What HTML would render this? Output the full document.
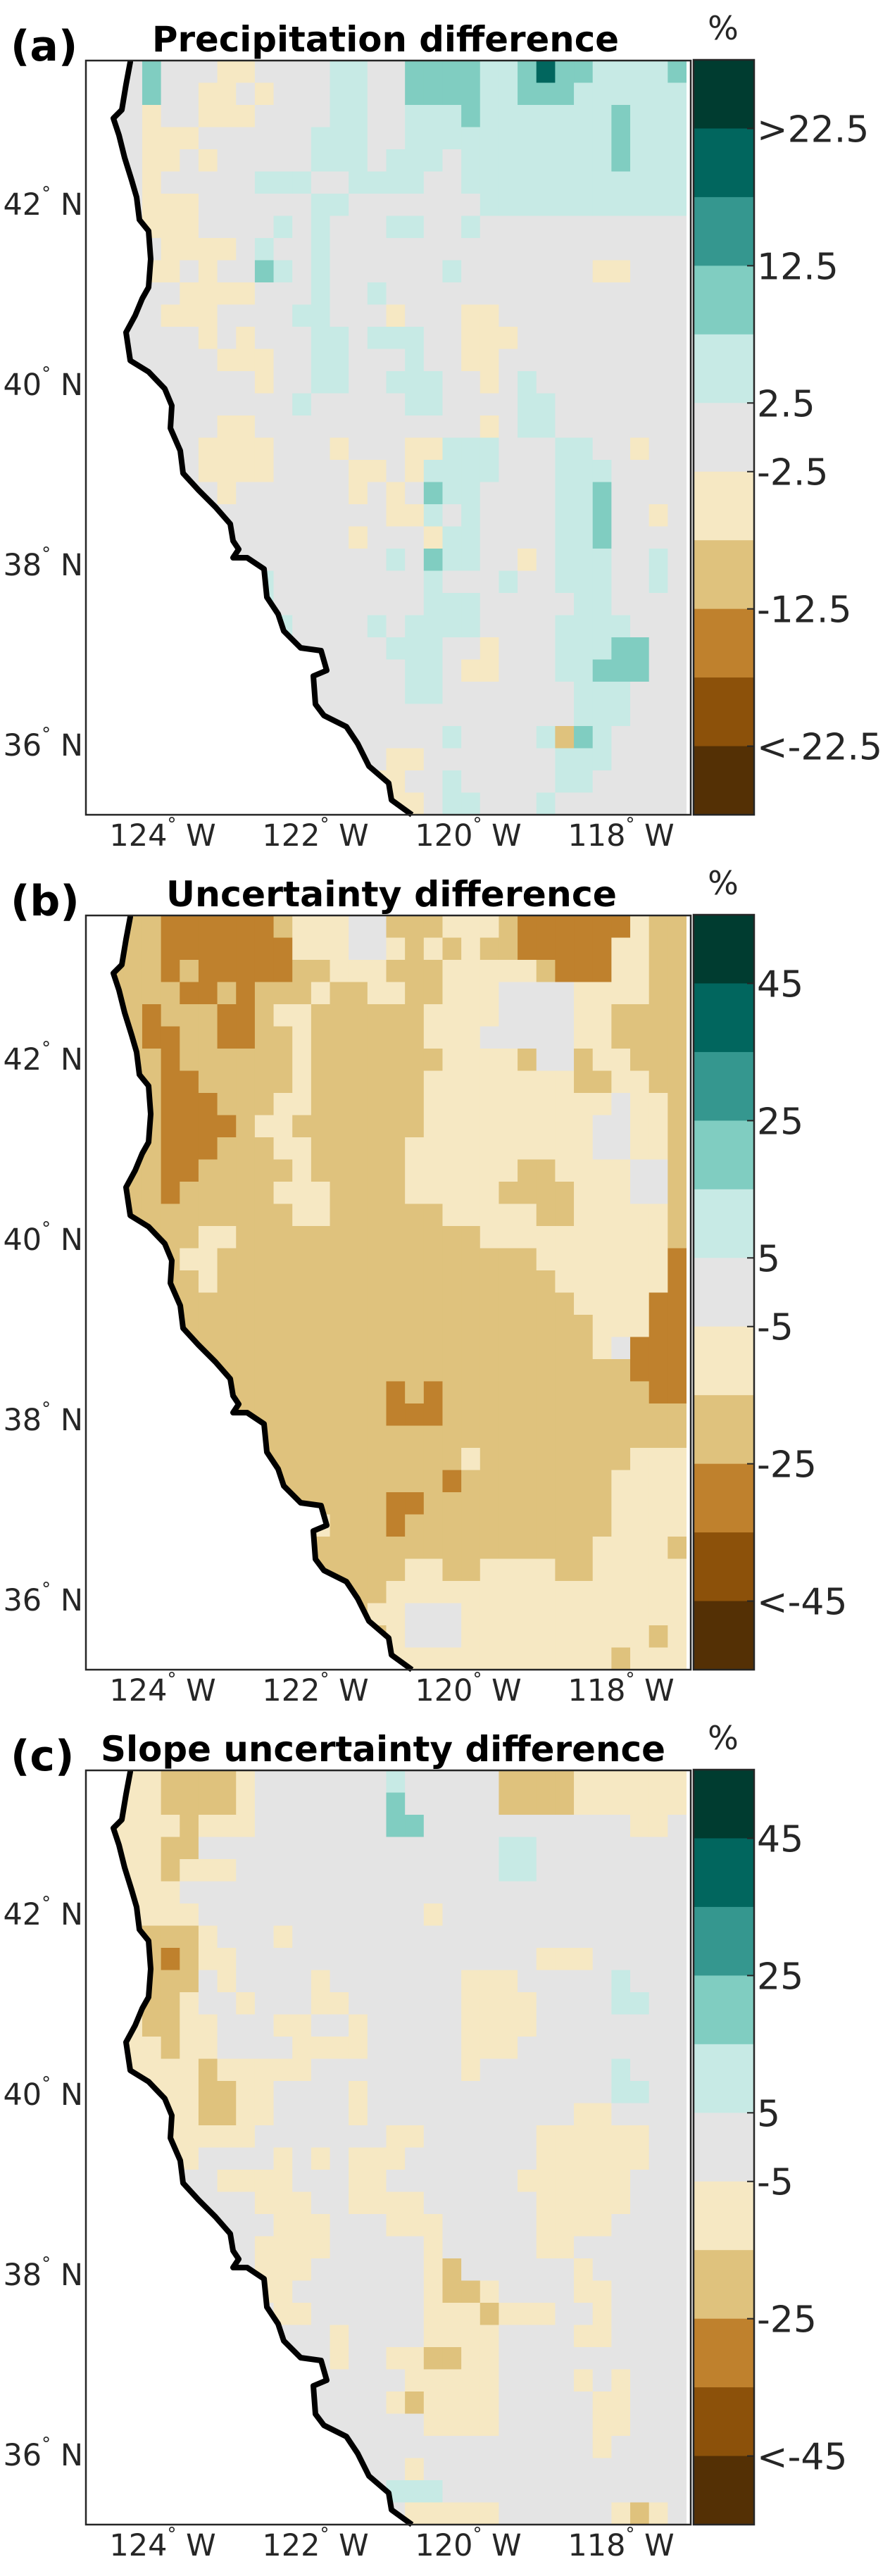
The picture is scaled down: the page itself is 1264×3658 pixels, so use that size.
<!DOCTYPE html>
<html><head><meta charset="utf-8">
<style>
html,body{margin:0;padding:0;background:#fff;}
svg{display:block;font-family:"DejaVu Sans","Liberation Sans",sans-serif;}
</style></head>
<body>
<svg id="fig" width="1264" height="3658" viewBox="0 0 1264 3658" xmlns="http://www.w3.org/2000/svg"></svg>
<script>
// ---- data ----
const palette = ["#543005","#8c510a","#bf812d","#dfc27d","#f6e8c3","#e4e4e4","#c7eae5","#80cdc1","#35978f","#01665e","#003c30"];
const panelLetters = ["(a)","(b)","(c)"];
const panelTitles = ["Precipitation difference","Uncertainty difference","Slope uncertainty difference"];
const cbLabelsA = [">22.5","12.5","2.5","-2.5","-12.5","<-22.5"];
const cbLabelsB = ["45","25","5","-5","-25","<-45"];
const cbLabelsC = ["45","25","5","-5","-25","<-45"];
const cbLabelBoundaries = [1,3,5,6,8,10];
const latTicks = [42,40,38,36];
const lonTicks = [124,122,120,118];
const gridA = [
"55575554455556655777766797766667",
"55575544545556655777766777666666",
"55545544455556655666766666667666",
"55544455555566655666666666667666",
"55544545555566656665666666667666",
"55545555566655666655666666666666",
"55544455555566555555566666666666",
"55544455556565556655655555555555",
"55554444565565555555555555555555",
"55544545576565555556555555544555",
"55555444455565565555555555555555",
"55554445555665554555445555555555",
"55555545455566566655444555555555",
"55555554445566555655445555555555",
"55555555545566556665545655555555",
"55555555555655555665555665555555",
"55555554455555555555545665555555",
"55555544445554555446665556655455",
"55555544445555445466665556665555",
"55555554555555454576655556675555",
"55555555555555554465655556675545",
"55555555555555455546655556675555",
"55555555555555556576655456665565",
"55555555565555555565556556665565",
"55555555565555555566655555665555",
"55555555556555565666655556666555",
"55555555555555556665545556667755",
"55555555555555555665445556677755",
"55555555555555555665555555666555",
"55555555555555555555555555666555",
"55555555555555555556555563765555",
"55555555555555554455555556665555",
"55555555555555544556555556655555",
"55555555555555554456655565555555"];
const gridB = [
"33332222223444553334443222222433",
"33332222222444554343433222224433",
"33332322222334443334444432224433",
"33333223233343344334445555444433",
"33323332234433333344445555443333",
"33322332233433333344455555443333",
"33332333333433333334444355344333",
"33332233333433333344444444334433",
"33332223334433333344444444445443",
"33332222344333333344444444455443",
"33332223334433333444444444455443",
"33332233333433333444444334444553",
"33332333334443333444443333444553",
"33333333333443333334444433444443",
"33333344333333333333344444444443",
"33333443333333333333333344444442",
"33333343333333333333333334444442",
"33333333333333333333333333444422",
"33333333333333333333333333344422",
"33333333333333333333333333345222",
"33333333333333333333333333333222",
"33333333333333332323333333333322",
"33333333333333332223333333333333",
"33333334433333333333333333333333",
"33333333433333333333433333333444",
"33333333443333333332333333334444",
"33333333344333332233333333334444",
"33333333334443332333333333334444",
"33333333334433333333333333344443",
"33333333334433333443344443344444",
"33333333333444334444444444444444",
"33333333333343344555444444444444",
"33333333333334334555444444444434",
"33333333333333334444444444443444"];
const gridC = [
"44443333455555556555553333444444",
"44443333455555557555553333444444",
"44444344455555557755555555555445",
"44443355555555555555556655555555",
"44443444555555555555556655555555",
"44444555555555555555555555555555",
"44444455555555555545555555555555",
"44433345554555555555555555555555",
"44432344555555555555555544455555",
"44433354555545555555444555556555",
"44433455455544555555444455556655",
"44433445554455455555444455555555",
"44443445555444455555444555555555",
"44444434444455555555455555556555",
"44444433445555455555555555556655",
"44444433445555455555555555445555",
"44444444455555554455555544444455",
"44444455554545444555555544444455",
"44444554444555445555555444444555",
"44445555544455444455555544444555",
"44445555554445554445555544445555",
"44445555544445555545555544555555",
"44445555544455555543555555455555",
"44444555444555555543345555445555",
"44444444554455555544434445545555",
"44444444555554555544445555445555",
"44444445555554554433445555555555",
"44444455555555555444445555454555",
"44444556655555554344445555544555",
"44444556655555555544445555544555",
"44444455555555555555555555545555",
"44444444455555555455555555555555",
"44444444555555556665555555555555",
"44444444555555555444445555554345"];
const grids = [gridA, gridB, gridC];
const cbLabelSets = [cbLabelsA, cbLabelsB, cbLabelsC];

// ---- layout ----
const NS = "http://www.w3.org/2000/svg";
const svg = document.getElementById("fig");
const panelTops = [86, 1300, 2514];
const boxL = 122, boxR = 981, boxH = 1071, dataR = 975;
const cbL = 985, cbR = 1071;
const coast = [[185,0],[185,2],[179,34],[173,70],[161,82],[169,106],[177,138],[187,170],[194,194],[198,226],[211,242],[214,282],[211,322],[202,338],[192,362],[179,386],[185,426],[211,442],[234,466],[244,490],[242,522],[256,554],[260,586],[282,610],[306,634],[327,658],[331,682],[339,694],[331,706],[351,706],[375,722],[379,762],[395,786],[403,810],[427,834],[456,838],[464,866],[445,874],[448,914],[460,930],[492,946],[508,970],[524,1002],[552,1026],[556,1050],[585,1071]];
function xLon(w){ return 231 + (124 - w) * 108.5; }
function yLat(l){ return 204 + (42 - l) * 128; }
function mk(tag, attrs, parent){ const e=document.createElementNS(NS,tag); for(const k in attrs) e.setAttribute(k,attrs[k]); (parent||svg).appendChild(e); return e; }

const defs = mk("defs",{});
const clip = mk("clipPath",{id:"land"},defs);
const landPts = coast.map(p=>p.join(",")).concat([dataR+",1071",dataR+",0"]).join(" ");
mk("polygon",{points:landPts},clip);

for(let p=0;p<3;p++){
  const top = panelTops[p];
  const g = mk("g",{transform:"translate(0,"+top+")"});
  
  

  const letter = mk("text",{x:15,y:0,"font-size":60,"font-weight":"bold",fill:"#000"},g);
  letter.textContent = panelLetters[p];
  
  

  const titleW = [663,640,802][p], titleX = [216,236,143][p];
  const title = mk("text",{x:titleX,y:-13,"font-size":50,"font-weight":"bold",fill:"#000",textLength:titleW,lengthAdjust:"spacingAndGlyphs"},g);
  title.textContent = panelTitles[p];
  
  

  const pct = mk("text",{x:1027,y:-30,"font-size":46,fill:"#262626","text-anchor":"middle"},g);
  pct.textContent = "%";
  
  

  const mapG = mk("g",{"clip-path":"url(#land)"},g);
  
  
  const grid = grids[p];
  const rows = grid.length, cols = grid[0].length;
  const cw = (dataR - boxL) / cols, ch = boxH / rows;
  for(let r=0;r<rows;r++){
    for(let c=0;c<cols;c++){
      const v = parseInt(grid[r][c],10);
      const cell = mk("rect",{x:(boxL+c*cw).toFixed(2),y:(r*ch).toFixed(2),width:(cw+0.6).toFixed(2),height:(ch+0.6).toFixed(2),fill:palette[v]},mapG);
      
      
    }
  }
  const cl = mk("polyline",{points:coast.map(q=>q.join(",")).join(" "),fill:"none",stroke:"#000","stroke-width":8,"stroke-linejoin":"round"},g);
  
  
  const fr = mk("rect",{x:boxL,y:0,width:boxR-boxL,height:boxH,fill:"none",stroke:"#262626","stroke-width":2.5},g);
  
  

  latTicks.forEach(l=>{
    const t = mk("text",{x:118,y:yLat(l)+15,"font-size":43,fill:"#262626","text-anchor":"end"},g);
    
    
    const a = mk("tspan",{},t); a.textContent = String(l);
    const d = mk("tspan",{dy:-22,"font-size":26},t); d.textContent = "°";
    const n = mk("tspan",{dy:22},t); n.textContent = " N";
  });
  lonTicks.forEach(w=>{
    const t = mk("text",{x:xLon(w),y:1115,"font-size":43,fill:"#262626","text-anchor":"middle"},g);
    
    
    const a = mk("tspan",{},t); a.textContent = String(w);
    const d = mk("tspan",{dy:-22,"font-size":26},t); d.textContent = "°";
    const n = mk("tspan",{dy:22},t); n.textContent = " W";
  });

  const n = palette.length, bh = (boxH+1) / n;
  const cbG = mk("g",{},g);
  
  
  for(let i=0;i<n;i++){
    const b = mk("rect",{x:cbL,y:(-1+i*bh).toFixed(2),width:cbR-cbL,height:(bh+0.5).toFixed(2),fill:palette[n-1-i]},cbG);
    
    
  }
  mk("rect",{x:cbL,y:-1,width:cbR-cbL,height:boxH+1,fill:"none",stroke:"#262626","stroke-width":2.5},cbG);
  cbLabelSets[p].forEach((lab,i)=>{
    const yb = -1 + cbLabelBoundaries[i]*bh;
    mk("line",{x1:cbR-10,x2:cbR,y1:yb,y2:yb,stroke:"#262626","stroke-width":2},cbG);
    const t = mk("text",{x:cbR+4,y:yb+19,"font-size":52,fill:"#262626"},cbG);
    t.textContent = lab;
    
    
  });
}
</script>
</body></html>
